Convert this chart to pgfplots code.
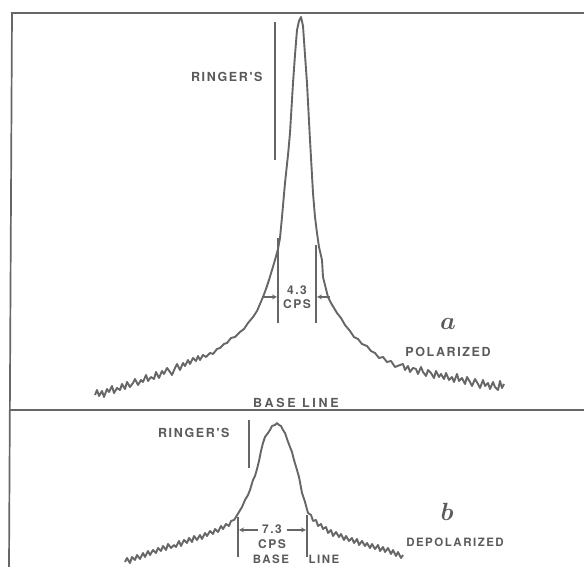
\documentclass[border=0pt]{standalone}
\usepackage{fontspec}
\usepackage{bm}
\usepackage{pgfplots}
\pgfplotsset{compat=1.18}
\newfontfamily\lab{TeX Gyre Heros}[LetterSpace=13]
\newfontfamily\labwide{TeX Gyre Heros}[LetterSpace=22]
\definecolor{ink}{HTML}{666666}
\definecolor{txt}{HTML}{5A5A5A}
\begin{document}
\begin{tikzpicture}
\begin{axis}[
  scale only axis,
  width=584pt, height=567pt,
  xmin=0, xmax=584, ymin=0, ymax=567,
  hide axis, clip=false,
  ]
% frame of the two traces
\draw[ink, line width=1.7pt] (axis cs:584,554) -- (axis cs:12,554) -- (axis cs:9,0);
\draw[ink, line width=1.7pt] (axis cs:10,157) -- (axis cs:584,157);

% (a) polarized
\addplot[ink, no markers, line width=1.9pt, line join=round] coordinates {
 (95,172) (97,177) (99,171) (102,176) (104,170) (107,178) (109,175) (112,181)
 (114,174) (117,179) (120,177) (122,183) (125,178) (127,185) (130,180) (133,184)
 (135,188) (138,182) (141,187) (143,185) (146,192) (148,186) (151,190) (154,188)
 (156,195) (159,189) (162,196) (164,193) (167,199) (170,195) (172,192) (175,199)
 (177,203) (180,197) (183,204) (185,201) (188,207) (190,203) (193,209) (196,206)
 (198,211) (200,207) (203,212) (206,210) (210,214) (213,213)
 (217,218) (220,219) (224,223) (227,224) (231,229) (235,230) (240,235) (244,238)
 (248,244) (253,250) (257,256) (260,263) (263,270) (266,278) (269,287) (272,297)
 (275,307) (278,318) (280,329) (282,350) (285,384) (288,412) (290,434) (293,484)
 (295,512) (297,537) (299,546) (301,550) (303,541) (305,512) (307,484) (310,427)
 (313,374) (315,350) (317,334) (319,320) (322,307) (323,290) (326,278) (328,270)
 (331,264) (334,259) (337,254) (341,249) (345,242) (350,236) (354,230) (358,228)
 (362,223) (367,221) (371,216) (375,214) (379,209) (383,210) (387,205) (391,206)
 (395,200) (400,202) (403,203) (405,197) (408,201) (410,195) (413,199) (416,198)
 (418,193) (421,200) (423,195) (426,191) (428,197) (431,194) (434,189) (436,196)
 (439,190) (441,193) (444,188) (446,194) (449,187) (452,190) (454,185) (457,193)
 (459,186) (462,189) (465,183) (467,190) (470,185) (472,181) (475,188) (478,183)
 (480,179) (483,187) (485,181) (488,184) (490,178) (493,185) (495,180) (498,177)
 (500,186) (502,179) (504,183)
};

% (b) depolarized
\addplot[ink, no markers, line width=1.9pt, line join=round] coordinates {
 (125,5) (127,9) (130,4) (132,10) (135,7) (137,12) (140,8) (143,14) (145,10)
 (148,16) (150,12) (153,17) (156,14) (158,19) (161,16) (163,21) (166,17) (168,23)
 (171,19) (174,22) (176,20) (179,26) (181,21) (184,27) (187,24) (189,29) (192,25)
 (194,31) (197,27) (200,32) (202,28) (205,34) (207,31) (210,36) (213,33) (215,38)
 (218,35) (221,41) (223,38) (226,43) (229,41) (231,46) (234,47) (236,50) (239,55)
 (242,60) (245,67) (248,72) (250,77) (253,87) (255,91)
 (257,98) (259,106) (261,116) (263,124) (265,130) (268,134) (270,137) (272,141)
 (275,142) (277,144) (279,142) (281,141) (283,137) (285,134) (287,128) (290,120)
 (292,115) (294,107) (297,97) (299,90) (302,74) (305,65) (308,54) (311,52)
 (313,46) (316,47) (318,41) (321,43) (323,38) (326,40) (328,34) (331,37) (333,31)
 (336,35) (339,30) (341,33) (344,27) (346,31) (349,26) (352,29) (354,24) (357,28)
 (359,22) (362,26) (365,21) (367,24) (370,19) (372,23) (375,18) (378,22) (380,16)
 (383,20) (385,15) (388,19) (391,13) (393,17) (396,11) (398,15) (401,9) (403,12)
};

% annotations, panel a
\draw[ink, line width=1.5pt] (axis cs:275,545) -- (axis cs:275,407);
\node[txt, anchor=east, font=\lab\bfseries\fontsize{12.5}{12.5}\selectfont] at (axis cs:266,490) {RINGER'S};
\draw[ink, line width=1.5pt] (axis cs:278,329) -- (axis cs:278,244);
\draw[ink, line width=1.5pt] (axis cs:316,322) -- (axis cs:316,244);
\draw[ink, line width=1.2pt, -stealth] (axis cs:262,270) -- (axis cs:277,270);
\draw[ink, line width=1.2pt, -stealth] (axis cs:330,270) -- (axis cs:317,270);
\node[txt, font=\lab\bfseries\fontsize{12}{12}\selectfont] at (axis cs:297,277) {4.3};
\node[txt, font=\lab\bfseries\fontsize{12}{12}\selectfont] at (axis cs:297,263) {CPS};
\node[txt, font=\labwide\bfseries\fontsize{12.5}{12.5}\selectfont] at (axis cs:296,164) {BASE LINE};
\node[txt] at (axis cs:448,243) {\fontsize{26}{26}\selectfont$\bm{a}$};
\node[txt, font=\lab\bfseries\fontsize{12.5}{12.5}\selectfont] at (axis cs:448,215) {POLARIZED};

% annotations, panel b
\draw[ink, line width=1.5pt] (axis cs:249,147) -- (axis cs:249,99);
\node[txt, anchor=east, font=\lab\bfseries\fontsize{12.5}{12.5}\selectfont] at (axis cs:233,134) {RINGER'S};
\draw[ink, line width=1.5pt] (axis cs:238,50) -- (axis cs:238,10);
\draw[ink, line width=1.5pt] (axis cs:307,52) -- (axis cs:307,10);
\draw[ink, line width=1.2pt, -stealth] (axis cs:258,37) -- (axis cs:239,37);
\draw[ink, line width=1.2pt, -stealth] (axis cs:287,37) -- (axis cs:306,37);
\node[txt, font=\lab\bfseries\fontsize{12}{12}\selectfont] at (axis cs:272,38) {7.3};
\node[txt, font=\lab\bfseries\fontsize{12}{12}\selectfont] at (axis cs:272,23) {CPS};
\node[txt, font=\lab\bfseries\fontsize{11.5}{11.5}\selectfont] at (axis cs:271,8) {BASE};
\node[txt, font=\lab\bfseries\fontsize{11.5}{11.5}\selectfont] at (axis cs:324,8) {LINE};
\node[txt] at (axis cs:447,55) {\fontsize{30}{30}\selectfont$\bm{b}$};
\node[txt, font=\lab\bfseries\fontsize{11.5}{11.5}\selectfont] at (axis cs:455,25) {DEPOLARIZED};
\end{axis}
\pgfresetboundingbox
\path (0,0) rectangle (584pt,567pt);
\end{tikzpicture}
\end{document}
